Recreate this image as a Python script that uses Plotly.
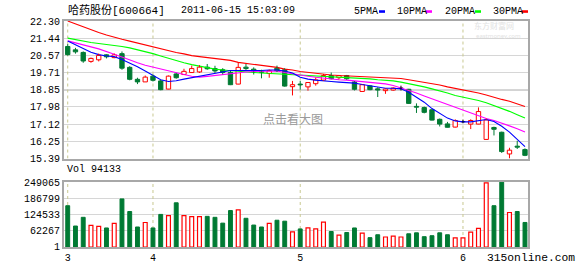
import plotly.graph_objects as go

# ---------------- data ----------------
month_labels = ['3', '4', '5', '6']
month_idx = [0, 11, 30, 51]

opens = [21.02, 20.85, 20.72, 20.27, 20.35, 20.60, 20.46, 20.66, 19.97, 19.37,
         19.24, 19.53, 19.29, 18.88, 19.64, 19.61, 19.71, 19.74, 19.98, 19.91,
         19.85, 19.72, 19.13, 19.98, 19.88, 19.76, 19.66, 19.93, 19.85, 19.00,
         19.13, 18.99, 19.15, 19.33, 19.56, 19.45, 19.56, 19.24, 18.76, 19.04,
         18.89, 18.80, 18.83, 18.92, 18.87, 18.01, 17.95, 17.84, 17.36, 17.13,
         16.97, 17.24, 17.12, 17.12, 16.35, 16.95, 16.71, 15.62, 16.01, 15.84]
highs = [21.14, 20.95, 20.77, 20.46, 20.66, 20.63, 20.67, 20.77, 20.03, 19.45,
         19.56, 19.61, 19.34, 19.56, 19.69, 19.90, 20.06, 20.08, 20.14, 20.05,
         19.93, 19.79, 20.21, 20.14, 19.97, 19.85, 19.86, 20.06, 19.93, 19.29,
         19.29, 19.23, 19.45, 19.64, 19.71, 19.59, 19.59, 19.28, 19.13, 19.06,
         18.97, 18.92, 18.97, 19.05, 18.89, 18.16, 18.00, 17.85, 17.40, 17.23,
         17.36, 17.34, 17.36, 17.96, 17.40, 16.99, 16.74, 15.93, 16.28, 15.90]
lows = [20.56, 20.66, 20.20, 20.20, 20.27, 20.42, 20.43, 19.85, 19.32, 19.13,
        19.24, 19.26, 18.82, 18.87, 19.40, 19.60, 19.69, 19.69, 19.85, 19.69,
        19.62, 19.08, 19.12, 19.84, 19.61, 19.42, 19.45, 19.74, 19.00, 18.56,
        18.85, 18.80, 19.05, 19.29, 19.37, 19.37, 19.35, 18.81, 18.75, 18.82,
        18.48, 18.64, 18.80, 18.81, 18.13, 17.68, 17.66, 17.30, 17.00, 16.95,
        16.95, 17.16, 16.87, 17.11, 16.33, 16.55, 15.67, 15.39, 15.87, 15.51]
closes = [20.61, 20.75, 20.29, 20.42, 20.57, 20.50, 20.60, 19.93, 19.37, 19.24,
          19.48, 19.32, 18.85, 19.53, 19.45, 19.77, 19.91, 19.98, 19.90, 19.79,
          19.71, 19.10, 19.97, 19.91, 19.77, 19.72, 19.80, 19.80, 19.03, 19.10,
          19.09, 19.21, 19.34, 19.56, 19.40, 19.56, 19.40, 18.87, 19.10, 18.85,
          18.83, 18.88, 18.93, 18.92, 18.16, 17.97, 17.71, 17.32, 17.12, 16.96,
          17.30, 17.24, 17.30, 17.75, 17.33, 16.86, 15.74, 15.81, 15.96, 15.55]
volumes = [158450, 80460, 113890, 82940, 79220, 73030, 90370, 184450, 136170, 76750,
           94080, 73030, 125030, 120080, 169590, 120080, 116360, 116360, 117600, 113890,
           91600, 139880, 142360, 110170, 84180, 76750, 90370, 102740, 99030, 58180,
           69320, 73030, 69320, 95320, 59420, 45800, 55700, 73030, 53230, 35900,
           47040, 38370, 42090, 38370, 50750, 54470, 39610, 43330, 54470, 47040,
           34660, 34660, 56940, 71800, 246300, 158450, 249065, 132450, 136170, 94133]
ma5 = [21.29, 21.12, 20.92, 20.73, 20.61, 20.54, 20.51, 20.37, 20.20, 20.00,
       19.79, 19.57, 19.35, 19.26, 19.30, 19.38, 19.45, 19.52, 19.59, 19.67,
       19.76, 19.81, 19.81, 19.80, 19.79, 19.81, 19.84, 19.84, 19.79, 19.69,
       19.47, 19.38, 19.33, 19.28, 19.26, 19.23, 19.21, 19.18, 19.11, 19.04,
       18.97, 18.92, 18.92, 18.89, 18.72, 18.48, 18.22, 17.90, 17.66, 17.42,
       17.28, 17.23, 17.23, 17.28, 17.35, 17.25, 17.01, 16.72, 16.38, 15.99]
ma10 = [21.30, 21.21, 21.12, 21.00, 20.90, 20.78, 20.63, 20.49, 20.34, 20.20,
        20.08, 19.98, 19.88, 19.79, 19.69, 19.61, 19.52, 19.48, 19.52, 19.57,
        19.62, 19.67, 19.71, 19.74, 19.76, 19.77, 19.79, 19.79, 19.71, 19.64,
        19.57, 19.52, 19.47, 19.42, 19.38, 19.35, 19.33, 19.29, 19.26, 19.23,
        19.18, 19.14, 19.06, 18.94, 18.82, 18.68, 18.53, 18.39, 18.24, 18.10,
        17.95, 17.80, 17.68, 17.52, 17.40, 17.30, 17.18, 17.03, 16.89, 16.72]
ma20 = [21.44, 21.36, 21.29, 21.22, 21.17, 21.13, 21.08, 21.02, 20.95, 20.86,
        20.78, 20.66, 20.54, 20.42, 20.29, 20.20, 20.11, 20.03, 19.95, 19.88,
        19.84, 19.80, 19.76, 19.74, 19.71, 19.69, 19.67, 19.64, 19.62, 19.59,
        19.56, 19.55, 19.52, 19.51, 19.49, 19.47, 19.45, 19.43, 19.42, 19.39,
        19.35, 19.33, 19.29, 19.23, 19.16, 19.06, 18.99, 18.89, 18.80, 18.68,
        18.56, 18.48, 18.41, 18.31, 18.19, 18.05, 17.93, 17.76, 17.59, 17.42]
ma30 = [22.30, 22.16, 21.99, 21.84, 21.72, 21.60, 21.48, 21.38, 21.29, 21.19,
        21.09, 21.00, 20.90, 20.80, 20.72, 20.65, 20.56, 20.51, 20.46, 20.44,
        20.39, 20.32, 20.22, 20.17, 20.11, 20.05, 20.00, 19.97, 19.88, 19.84,
        19.76, 19.71, 19.67, 19.63, 19.59, 19.56, 19.54, 19.51, 19.48, 19.46,
        19.45, 19.44, 19.42, 19.41, 19.35, 19.29, 19.23, 19.16, 19.08, 18.99,
        18.92, 18.84, 18.76, 18.68, 18.58, 18.46, 18.36, 18.27, 18.14, 18.00]

price_ticks = [22.30, 21.44, 20.57, 19.71, 18.85, 17.98, 17.12, 16.25, 15.39]
vol_ticks = [249065, 186799, 124533, 62267, 1]

ma_names = ['5PMA', '10PMA', '20PMA', '30PMA']
ma_colors = ['#0000ff', '#ff00ff', '#00ff00', '#ff0000']

# ---------------- styling ----------------
W, H = 578, 276
L, R, T, B = 64, 528, 21, 256
RED = '#ff0000'
GREEN = '#007a33'
FRAME = '#a8a8a8'
GRID = '#d6d6d6'
MONO = 'Liberation Mono, DejaVu Sans Mono, monospace'
CJK = 'Liberation Mono, Noto Sans CJK SC, sans-serif'


def px_x(px):
    return (px - L) / (R - L)


def px_y(py):
    return (B - py) / (B - T)


n = len(opens)
idx = list(range(n))
up = [i for i in idx if closes[i] > opens[i]]
down = [i for i in idx if closes[i] < opens[i]]
flat = [i for i in idx if closes[i] == opens[i]]
vol_up = [i for i in idx if closes[i] >= opens[i]]
vol_down = [i for i in idx if closes[i] < opens[i]]

fig = go.Figure()


def wick_trace(group, color):
    xs, ys = [], []
    for i in group:
        top = max(opens[i], closes[i])
        bot = min(opens[i], closes[i])
        xs += [i, i, None, i, i, None]
        ys += [highs[i], top, None, bot, lows[i], None]
    return go.Scatter(x=xs, y=ys, mode='lines', line=dict(color=color, width=1),
                      hoverinfo='skip', xaxis='x', yaxis='y')


# MA lines
for vals, c in zip([ma30, ma20, ma10, ma5], ma_colors[::-1]):
    fig.add_trace(go.Scatter(x=idx, y=vals, mode='lines', line=dict(color=c, width=1.1),
                             hoverinfo='skip', xaxis='x', yaxis='y'))

# wicks
fig.add_trace(wick_trace(up, RED))
fig.add_trace(wick_trace(down, GREEN))
fig.add_trace(wick_trace(flat, '#000000'))

# bodies
BW = 0.56
fig.add_trace(go.Bar(x=up, y=[closes[i] - opens[i] for i in up], base=[opens[i] for i in up],
                     width=BW, marker=dict(color='white', line=dict(color=RED, width=1)),
                     hoverinfo='skip', xaxis='x', yaxis='y'))
fig.add_trace(go.Bar(x=down, y=[opens[i] - closes[i] for i in down], base=[closes[i] for i in down],
                     width=BW, marker=dict(color=GREEN, line=dict(color=GREEN, width=1)),
                     hoverinfo='skip', xaxis='x', yaxis='y'))
fig.add_trace(go.Bar(x=flat, y=[0.004 for i in flat], base=[opens[i] for i in flat],
                     width=BW, marker=dict(color='black', line=dict(color='black', width=1)),
                     hoverinfo='skip', xaxis='x', yaxis='y'))

# volume
VW = 0.5
fig.add_trace(go.Bar(x=vol_up, y=[volumes[i] for i in vol_up], width=VW,
                     marker=dict(color='white', line=dict(color=RED, width=1.2)),
                     hoverinfo='skip', xaxis='x2', yaxis='y2'))
fig.add_trace(go.Bar(x=vol_down, y=[volumes[i] for i in vol_down], width=VW,
                     marker=dict(color=GREEN, line=dict(color=GREEN, width=1)),
                     hoverinfo='skip', xaxis='x2', yaxis='y2'))

xr = [-0.48, 59.39]
shapes = []
for m in month_idx:
    shapes.append(dict(type='line', xref='x', yref='y', x0=m, x1=m, y0=price_ticks[-1], y1=price_ticks[0],
                       line=dict(color='#c8c890', width=1, dash='3px,3px'), layer='between'))
    shapes.append(dict(type='line', xref='x2', yref='y2', x0=m, x1=m, y0=vol_ticks[-1], y1=vol_ticks[0],
                       line=dict(color='#c8c890', width=1, dash='3px,3px'), layer='between'))
# darker middle line of the price panel
shapes.append(dict(type='line', xref='paper', yref='y', x0=0, x1=1, y0=price_ticks[4], y1=price_ticks[4],
                   line=dict(color='#a8a8a8', width=1.5), layer='between'))

# legend colour chips
legend_x = [351.5, 395, 442.5, 490.5]
chip_x = [379, 426, 475, 522]
annotations = []
for name, c, lx, cx in zip(ma_names, ma_colors, legend_x, chip_x):
    annotations.append(dict(text=name, x=px_x(lx), y=px_y(10.8), xref='paper', yref='paper',
                            xanchor='left', yanchor='middle', showarrow=False,
                            font=dict(family=MONO, size=10, color='black')))
    shapes.append(dict(type='rect', xref='paper', yref='paper', x0=px_x(cx), x1=px_x(cx + 6),
                       y0=px_y(12.5), y1=px_y(9.8), fillcolor=c, line=dict(width=0)))

annotations += [
    dict(text='哈药股份[600664]', x=px_x(65.5), y=px_y(10.3), xref='paper', yref='paper',
         xanchor='left', yanchor='middle', showarrow=False,
         font=dict(family=CJK, size=11, color='black')),
    dict(text='2011-06-15 15:03:09', x=px_x(179), y=px_y(10.3), xref='paper', yref='paper',
         xanchor='left', yanchor='middle', showarrow=False,
         font=dict(family=MONO, size=10, color='black')),
    dict(text='Vol ' + str(volumes[-1]), x=px_x(65), y=px_y(175), xref='paper', yref='paper',
         xanchor='left', yanchor='middle', showarrow=False,
         font=dict(family=MONO, size=10, color='black')),
    dict(text='315online.com', x=px_x(485), y=px_y(267), xref='paper', yref='paper',
         xanchor='left', yanchor='middle', showarrow=False,
         font=dict(family=MONO, size=11.3, color='black')),
    dict(text='点击看大图', x=px_x(293), y=px_y(122.7), xref='paper', yref='paper',
         xanchor='center', yanchor='middle', showarrow=False,
         font=dict(family='Noto Sans CJK SC', size=12, color='#9a9a9a')),
    dict(text='东方财富网', x=px_x(494), y=px_y(25.5), xref='paper', yref='paper',
         xanchor='center', yanchor='middle', showarrow=False, borderpad=0,
         font=dict(family='Noto Sans CJK SC', size=8, color='#e2e2e2')),
    dict(text='eastmoney.com', x=px_x(498), y=px_y(36.5), xref='paper', yref='paper',
         xanchor='center', yanchor='middle', showarrow=False, borderpad=0,
         font=dict(family='Noto Sans', size=6, color='#e2e2e2')),
]

axis_common = dict(showline=True, mirror=True, linecolor=FRAME, linewidth=2, zeroline=False,
                   ticks='', fixedrange=True)

fig.update_layout(
    width=W, height=H,
    margin=dict(l=L, r=W - R, t=T, b=H - B, pad=0),
    paper_bgcolor='white', plot_bgcolor='white',
    showlegend=False, barmode='overlay', bargap=0,
    font=dict(family=MONO, size=10, color='black'),
    xaxis=dict(domain=[0, 1], anchor='y', range=xr, showticklabels=False, showgrid=False, **axis_common),
    yaxis=dict(domain=[px_y(164), 1], anchor='x', range=[price_ticks[-1], price_ticks[0]],
               tickvals=price_ticks, ticktext=['%.2f' % v for v in price_ticks],
               showgrid=True, gridcolor=GRID, gridwidth=1,
               tickfont=dict(family=MONO, size=10, color='black'), **axis_common),
    xaxis2=dict(domain=[0, 1], anchor='y2', range=xr, tickvals=month_idx, ticktext=month_labels,
                showgrid=False, tickfont=dict(family=MONO, size=10, color='black'), **axis_common),
    yaxis2=dict(domain=[0, px_y(188.5)], anchor='x2', range=[vol_ticks[-1], vol_ticks[0]],
                tickvals=vol_ticks, ticktext=[str(v) for v in vol_ticks],
                showgrid=True, gridcolor=GRID, gridwidth=1,
                tickfont=dict(family=MONO, size=10, color='black'), **axis_common),
    shapes=shapes,
    annotations=annotations,
)

fig.write_html('out.html', config={'displayModeBar': False, 'staticPlot': True})
